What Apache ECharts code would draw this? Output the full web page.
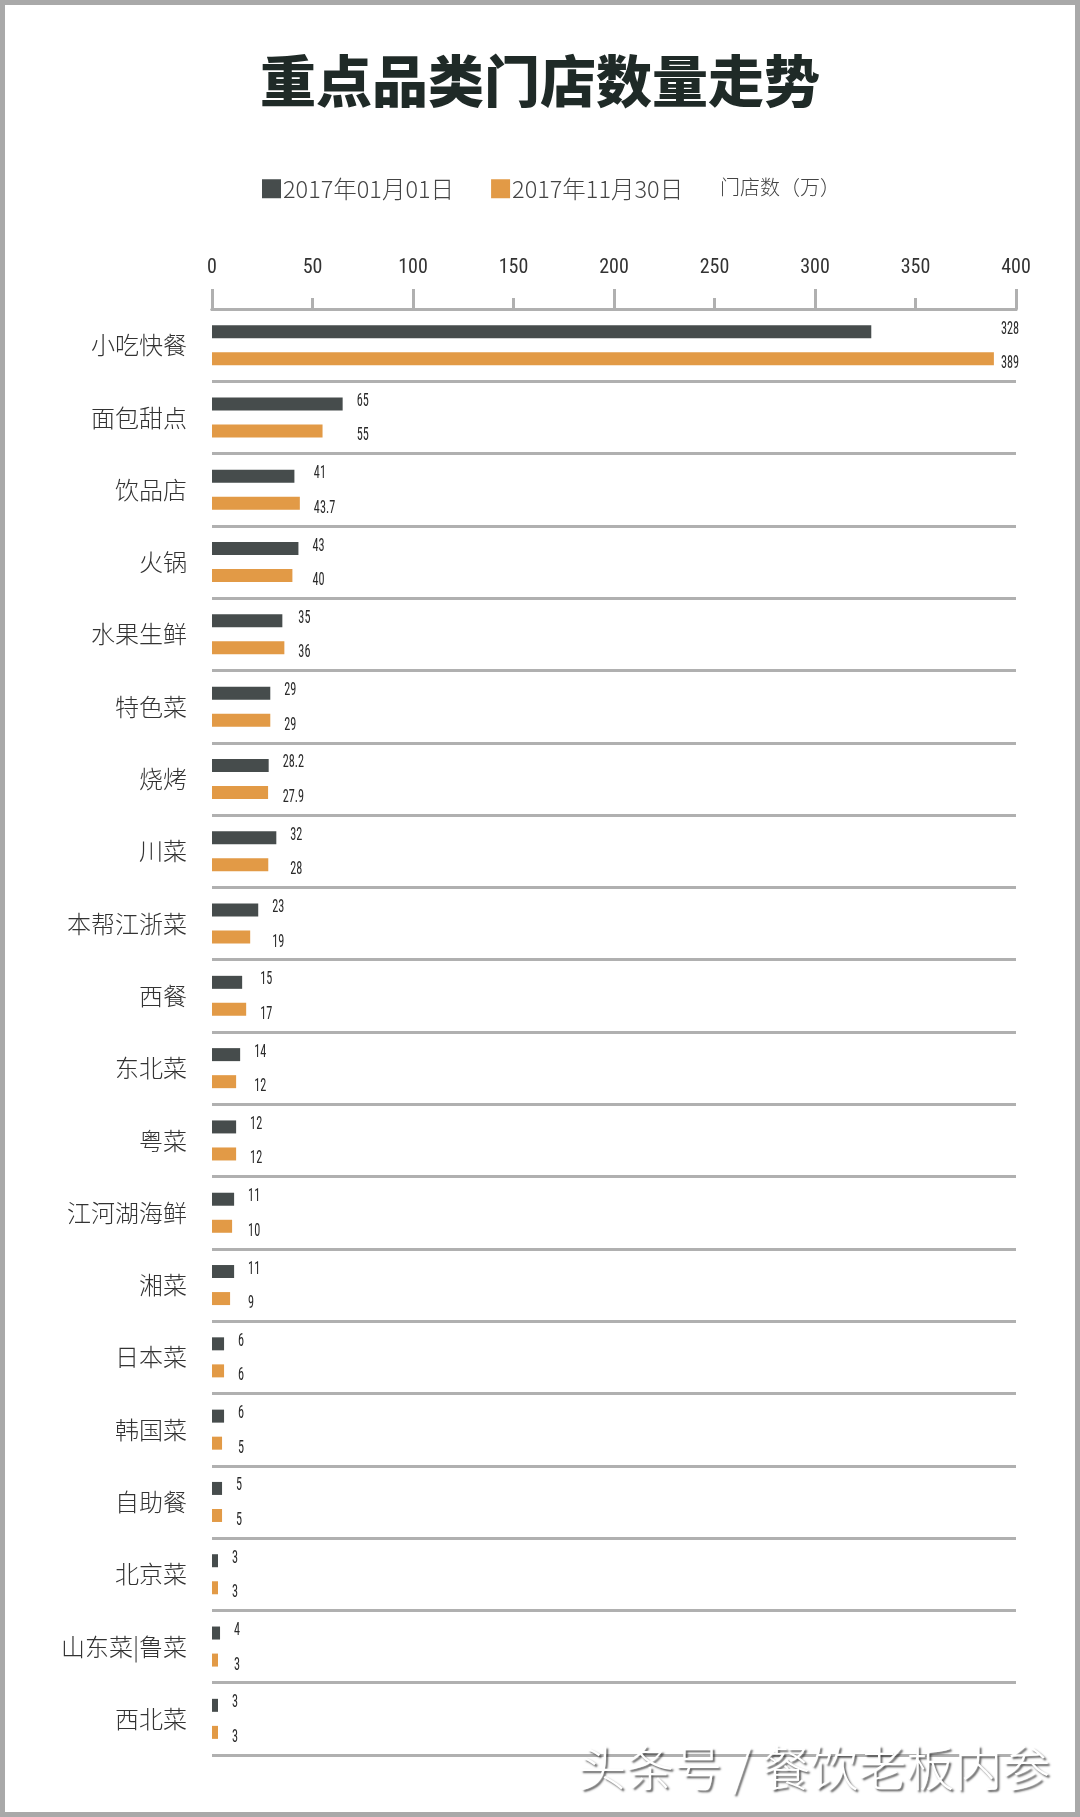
<!DOCTYPE html>
<html>
<head>
<meta charset="utf-8">
<script src="https://cdn.jsdelivr.net/npm/echarts@6/dist/echarts.min.js"></script>
<style>html,body{margin:0;padding:0;background:#fff;}#c{width:1080px;height:1817px;}</style>
</head>
<body>
<div id="c"></div>
<script>
var categories = ['小吃快餐','面包甜点','饮品店','火锅','水果生鲜','特色菜','烧烤','川菜','本帮江浙菜','西餐','东北菜','粤菜','江河湖海鲜','湘菜','日本菜','韩国菜','自助餐','北京菜','山东菜|鲁菜','西北菜'];
var seriesNames = ['2017年01月01日','2017年11月30日'];
var jan2017 = [328,65,41,43,35,29,28.2,32,23,15,14,12,11,11,6,6,5,3,4,3];
var nov2017 = [389,55,43.7,40,36,29,27.9,28,19,17,12,12,10,9,6,5,5,3,3,3];
var xTicks = [0,50,100,150,200,250,300,350,400];

var DARK = '#464c4c', ORANGE = '#e29a46', GRAY = '#b0b0b0';
var NUMFONT = '"Liberation Sans Narrow", "Roboto Condensed", sans-serif';
var CJK = '"Noto Sans CJK SC", "Noto Sans", sans-serif';

var labelData = categories.map(function (c, i) { return [jan2017[i], i, nov2017[i]]; });

var chart = echarts.init(document.getElementById('c'), null, {renderer: 'canvas'});
var option = {
  backgroundColor: '#ffffff',
  animation: false,
  title: {
    text: '重点品类门店数量走势',
    left: 'center', top: 48,
    textStyle: {fontSize: 56, fontWeight: 900, color: '#1f2a27', fontFamily: CJK}
  },
  legend: {
    data: seriesNames,
    left: 257, top: 172,
    itemWidth: 19, itemHeight: 19, itemGap: 37,
    icon: 'rect',
    textStyle: {fontSize: 23.5, fontWeight: 300, color: '#444', fontFamily: CJK, padding: [0,0,0,-3]}
  },
  grid: {left: 212, right: 64, top: 309, bottom: 62, containLabel: false},
  xAxis: [{
    type: 'value', position: 'top', min: xTicks[0], max: xTicks[xTicks.length-1], interval: 50,
    axisLine: {show: true, lineStyle: {color: GRAY, width: 3}},
    axisTick: {show: true, length: 11, lineStyle: {color: GRAY, width: 3}},
    axisLabel: {margin: 31, fontSize: 20, color: '#333', fontFamily: NUMFONT},
    splitLine: {show: false}
  }, {
    type: 'value', position: 'top', min: 0, max: 400, interval: 100,
    axisLine: {show: true, lineStyle: {color: GRAY, width: 3}},
    axisTick: {show: true, length: 20, lineStyle: {color: GRAY, width: 3}},
    axisLabel: {show: false},
    splitLine: {show: false}
  }],
  yAxis: {
    type: 'category', inverse: true, data: categories,
    axisLine: {show: false}, axisTick: {show: false},
    axisLabel: {margin: 25, fontSize: 24, fontWeight: 300, color: '#333', fontFamily: CJK},
    splitLine: {show: true, lineStyle: {color: GRAY, width: 3}}
  },
  series: [{
    name: seriesNames[0], type: 'bar', xAxisIndex: 0, data: jan2017,
    barWidth: 13, barGap: '108%', itemStyle: {color: DARK}
  }, {
    name: seriesNames[1], type: 'bar', xAxisIndex: 0, data: nov2017,
    barWidth: 13, itemStyle: {color: ORANGE}
  }, {
    type: 'custom', xAxisIndex: 0, yAxisIndex: 0, data: labelData,
    encode: {x: [0, 2], y: 1}, silent: true, z: 5,
    renderItem: function (params, api) {
      var a = api.value(0), i = api.value(1), b = api.value(2);
      var p = api.coord([Math.max(a, b), i]);
      var pEnd = api.coord([400, i]);
      var x = Math.min(p[0] + 14, pEnd[0] - 15);
      function t(txt, y) {
        return {type: 'text', x: x, y: y, scaleX: 0.68, scaleY: 1,
          style: {text: String(txt), fill: '#2a2a2a', font: '18px ' + NUMFONT, align: 'left', verticalAlign: 'middle'}};
      }
      return {type: 'group', children: [t(a, p[1] - 16), t(b, p[1] + 18.5)]};
    }
  }],
  graphic: [{
    type: 'text', left: 720, top: 177,
    style: {text: '门店数（万）', fill: '#444', font: '300 20px ' + CJK}
  }, {
    type: 'text', left: 578, top: 1744, z: 10,
    style: {text: '头条号 / 餐饮老板内参', fill: '#ffffff', font: '300 48px ' + CJK,
      textShadowColor: 'rgba(40,40,40,0.75)', textShadowOffsetX: 2, textShadowOffsetY: 2, textShadowBlur: 2}
  }, {
    type: 'rect', z: 20, silent: true,
    shape: {x: 2.5, y: 2.5, width: 1075, height: 1812},
    style: {fill: 'none', stroke: '#a9a9a9', lineWidth: 5}
  }]
};
chart.setOption(option);
</script>
</body>
</html>
